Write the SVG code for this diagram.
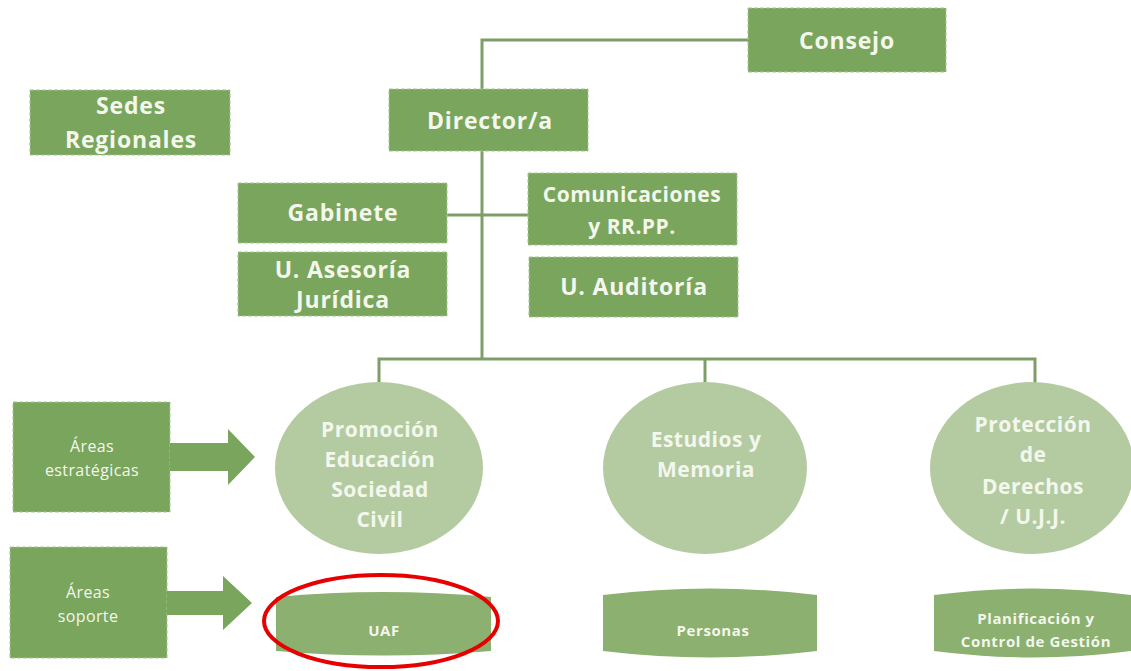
<svg xmlns="http://www.w3.org/2000/svg" width="1131" height="671" viewBox="0 0 1131 671">
<style>
.box{fill:#7aa55d;stroke:#a9c596;stroke-width:1;stroke-dasharray:4 2}
.circ{fill:#b4cba2}
.sup{fill:#8bb06f}
.t{font-family:"Open Sans","Liberation Sans",sans-serif;font-weight:bold;fill:#f3f7ec;text-anchor:middle}
.big{font-size:23px;letter-spacing:0.8px}
.cm{font-size:21px;letter-spacing:0.5px}
.mid{font-size:21px;letter-spacing:0.5px}
.sm{font-size:15px;letter-spacing:0.6px}
.xs{font-size:16px;font-weight:normal;letter-spacing:0.4px}
.ln{fill:none;stroke:#7d9e67;stroke-width:3}
.arr{fill:#7aa55d}
</style>
<g id="connectors">
<path class="ln" d="M482 89 V40 H748"/>
<path class="ln" d="M482 151 V359"/>
<path class="ln" d="M447 215 H528"/>
<path class="ln" d="M379 383 V359 H1035 V383"/>
<path class="ln" d="M705 359 V383"/>
</g>
<g id="consejo"><rect class="box" x="748" y="8" width="198" height="64"/><text class="t big" x="847" y="49">Consejo</text></g>
<g id="sedes"><rect class="box" x="30" y="90" width="200" height="65"/><text class="t big" x="131" y="114">Sedes</text><text class="t big" x="131" y="148">Regionales</text></g>
<g id="director"><rect class="box" x="389" y="89" width="199" height="62"/><text class="t big" x="490" y="129">Director/a</text></g>
<g id="gabinete"><rect class="box" x="238" y="183" width="209" height="60"/><text class="t big" x="343" y="221">Gabinete</text></g>
<g id="comunicaciones"><rect class="box" x="528" y="173" width="209" height="72"/><text class="t cm" x="632" y="202">Comunicaciones</text><text class="t cm" x="632" y="234">y RR.PP.</text></g>
<g id="asesoria"><rect class="box" x="238" y="252" width="209" height="64"/><text class="t big" x="343" y="278">U. Asesoría</text><text class="t big" x="343" y="308">Jurídica</text></g>
<g id="auditoria"><rect class="box" x="529" y="257" width="209" height="60"/><text class="t big" x="634" y="295">U. Auditoría</text></g>
<g id="promocion"><ellipse class="circ" cx="379" cy="468" rx="104" ry="86"/><text class="t mid" x="380" y="437">Promoción</text><text class="t mid" x="380" y="467">Educación</text><text class="t mid" x="380" y="497">Sociedad</text><text class="t mid" x="380" y="527">Civil</text></g>
<g id="estudios"><ellipse class="circ" cx="705" cy="468" rx="102" ry="86"/><text class="t mid" x="706" y="447">Estudios y</text><text class="t mid" x="706" y="477">Memoria</text></g>
<g id="proteccion"><ellipse class="circ" cx="1032" cy="468" rx="102" ry="86"/><text class="t mid" x="1033" y="432">Protección</text><text class="t mid" x="1033" y="462">de</text><text class="t mid" x="1033" y="494">Derechos</text><text class="t mid" x="1033" y="524">/ U.J.J.</text></g>
<g id="estrategicas"><rect class="box" x="13" y="402" width="157" height="110"/><text class="t xs" x="92" y="452">Áreas</text><text class="t xs" x="92" y="476">estratégicas</text>
<polygon class="arr" points="170,443 228,443 228,429 255,457 228,485 228,471 170,471"/></g>
<g id="soporte"><rect class="box" x="10" y="547" width="157" height="111"/><text class="t xs" x="88" y="598">Áreas</text><text class="t xs" x="88" y="622">soporte</text>
<polygon class="arr" points="167,591 223,591 223,576 252,603 223,630 223,615 167,615"/></g>
<g id="uaf"><path class="sup" d="M276 597 Q383 587 491 597 V651 Q383 660 276 651 Z"/><text class="t sm" x="384" y="636">UAF</text></g>
<g id="personas"><path class="sup" d="M603 595 Q710 582 817 595 V651 Q710 664 603 651 Z"/><text class="t sm" x="713" y="636">Personas</text></g>
<g id="planificacion"><path class="sup" d="M934 595 Q1033 582 1131 595 V651 Q1033 664 934 651 Z"/><text class="t sm" x="1036" y="624">Planificación y</text><text class="t sm" x="1036" y="647">Control de Gestión</text></g>
<ellipse id="highlight" cx="381" cy="621" rx="117" ry="46" fill="none" stroke="#e60000" stroke-width="4"/>
</svg>
